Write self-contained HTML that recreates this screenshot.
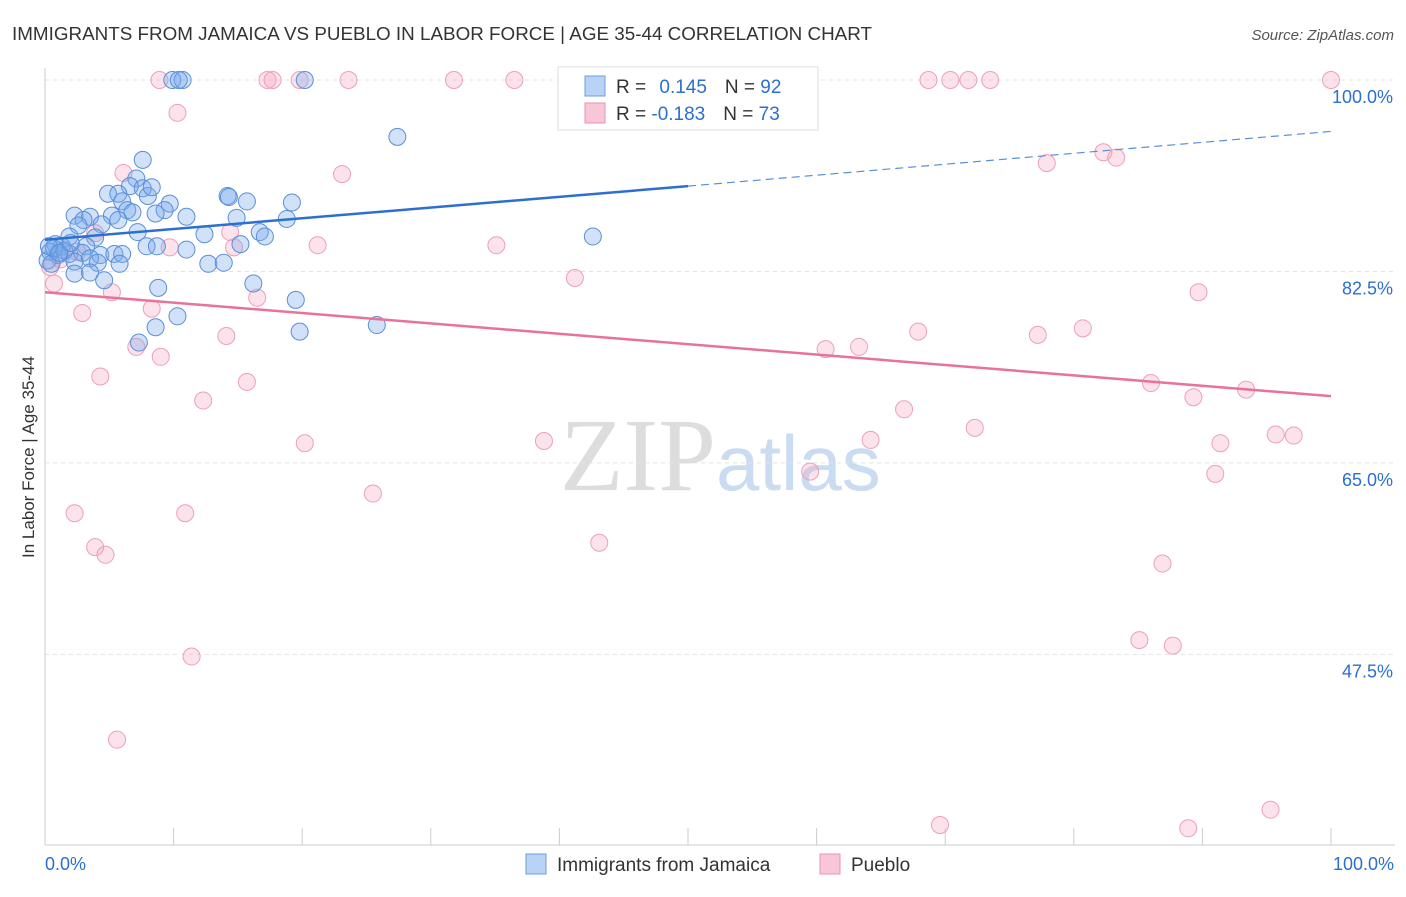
<!DOCTYPE html>
<html><head><meta charset="utf-8"><style>
body{margin:0;background:#fff;font-family:"Liberation Sans",sans-serif;}
</style></head><body>
<svg id="c" width="1406" height="892" xmlns="http://www.w3.org/2000/svg">
<text x="12" y="40" font-size="18.5" fill="#333" textLength="860" lengthAdjust="spacingAndGlyphs">IMMIGRANTS FROM JAMAICA VS PUEBLO IN LABOR FORCE | AGE 35-44 CORRELATION CHART</text>
<text x="1394" y="40" font-size="15" fill="#555" font-style="italic" text-anchor="end">Source: ZipAtlas.com</text>
<text x="716" y="490" font-size="104" fill="#ddd" text-anchor="end" font-family="Liberation Serif">ZIP</text>
<text x="716" y="490" font-size="78" fill="#c9dcf2">atlas</text>
<text transform="translate(34,457) rotate(-90)" font-size="17" fill="#333" text-anchor="middle">In Labor Force | Age 35-44</text>
<g id="grid"></g><g id="pts"></g><g id="trend"></g>
<g>
<rect x="558" y="67" width="260" height="63" fill="#fff" stroke="#ddd"/>
<rect x="585" y="76" width="20" height="20" fill="#b8d3f5" stroke="#6d9fe0"/>
<rect x="585" y="103" width="20" height="20" fill="#f9c6d6" stroke="#e892ae"/>
<text x="616" y="93" font-size="19" fill="#333">R = <tspan fill="#2b6fd1" dx="8">0.145</tspan><tspan dx="18">N = </tspan><tspan fill="#2b6fd1">92</tspan></text>
<text x="616" y="120" font-size="19" fill="#333">R = <tspan fill="#2b6fd1">-0.183</tspan><tspan dx="18">N = </tspan><tspan fill="#2b6fd1">73</tspan></text>
</g>
<g>
<rect x="526" y="854" width="20" height="20" fill="#b8d3f5" stroke="#6d9fe0"/>
<text x="557" y="871" font-size="19" fill="#333">Immigrants from Jamaica</text>
<rect x="820" y="854" width="20" height="20" fill="#f9c6d6" stroke="#e892ae"/>
<text x="851" y="871" font-size="19" fill="#333">Pueblo</text>
</g>
<text x="45" y="870" font-size="18" fill="#2b6fd1">0.0%</text>
<text x="1394" y="870" font-size="18" fill="#2b6fd1" text-anchor="end">100.0%</text>
</svg>
<script>
const yTicks=[100,82.5,65,47.5];
const xTicks=[0,10,20,30,40,50,60,70,80,90,100];
const blueX=[9.9,10.7,20.2,27.4,7.6,7.1,6.6,7.6,4.9,5.7,8,14.2,15.7,19.2,6,9.7,9.3,6.4,5.2,8.6,11,14.9,18.8,2.3,3.5,3,5.7,4.4,2.6,7.2,12.4,16.7,17.1,42.6,1.9,3.9,0.8,1.3,3.2,7.9,8.7,11,15.2,0.4,1,1.9,2.9,4.3,5.4,6,0.2,2.3,3.5,4.1,5.8,12.7,13.9,0.5,2.3,3.5,4.6,16.2,8.8,19.5,10.3,8.6,19.8,25.8,7.3,0.7,1.5,0.3,1.1,2,10.4,14.3,6.8,8.3];
const blueY=[100,100,100,94.8,92.7,91,90.3,90.1,89.6,89.6,89.4,89.4,88.9,88.8,88.9,88.7,88.1,88.1,87.6,87.8,87.5,87.4,87.3,87.6,87.5,87.2,87.2,86.8,86.7,86.1,85.9,86.1,85.7,85.7,85.7,85.6,85,84.8,84.8,84.8,84.8,84.5,85,84.3,84,84.1,84.2,84,84.1,84.1,83.5,83.4,83.7,83.3,83.2,83.2,83.3,83.2,82.3,82.4,81.7,81.4,81,79.9,78.4,77.4,77,77.6,76,84.6,84.4,84.8,84.2,85.1,100,89.3,87.9,90.2];
const pinkX=[8.9,17.3,17.7,19.8,23.6,31.8,36.5,45.6,68.7,70.4,71.8,73.5,100,10.3,82.3,83.3,77.9,23.1,6.1,14.4,3.9,21.2,35.1,9.7,14.7,0.4,41.2,0.7,5.2,89.7,16.5,8.3,2.9,80.7,67.9,77.2,14.1,7.1,60.7,63.3,9,4.3,15.7,86,93.4,89.3,12.3,66.8,72.3,95.7,97.1,64.2,91.4,38.8,20.2,59.5,91,25.5,2.3,10.9,43.1,3.9,4.7,86.9,85.1,87.7,11.4,5.6,95.3,69.6,88.9,1.2,2.5];
const pinkY=[100,100,100,100,100,100,100,100,100,100,100,100,100,97,93.4,92.9,92.4,91.4,91.5,86.1,86,84.9,84.9,84.7,84.7,82.9,81.9,81.4,80.6,80.6,80.1,79.1,78.7,77.3,77,76.7,76.6,75.6,75.4,75.6,74.7,72.9,72.4,72.3,71.7,71,70.7,69.9,68.2,67.6,67.5,67.1,66.8,67,66.8,64.2,64,62.2,60.4,60.4,57.7,57.3,56.6,55.8,48.8,48.3,47.3,39.7,33.3,31.9,31.6,83.6,84.3];
const blueTrend=[[0,85.4],[50,90.3],[100,95.3]];
const pinkTrend=[[0,80.6],[100,71.1]];
const X=v=>45+v*12.86, Y=v=>80+(100-v)*10.94;
const NS='http://www.w3.org/2000/svg';
function mk(t,a,p){const e=document.createElementNS(NS,t);for(const k in a)e.setAttribute(k,a[k]);p.appendChild(e);return e;}
const g=document.getElementById('grid');
yTicks.forEach(t=>{
 const l=mk('line',{x1:45,x2:1395,y1:Y(t),y2:Y(t),stroke:'#e3e3e3','stroke-dasharray':'4,4'},g);
 
 
 const tx=mk('text',{x:1393,y:Y(t)+23,'font-size':18,fill:'#2b6fd1','text-anchor':'end'},g);
 tx.textContent=t.toFixed(1)+'%';
 
 
});
const ax=mk('line',{x1:45,x2:45,y1:68,y2:845,stroke:'#ccc'},g);


const bx=mk('line',{x1:45,x2:1395,y1:845,y2:845,stroke:'#ccc'},g);


xTicks.forEach(t=>{
 const l=mk('line',{x1:X(t),x2:X(t),y1:828,y2:845,stroke:'#ccc'},g);
 
 
});
const p=document.getElementById('pts');
pinkX.forEach((v,i)=>{
 const c=mk('circle',{cx:X(v),cy:Y(pinkY[i]),r:8.5,fill:'rgba(244,160,190,0.3)',stroke:'#eca0ba','stroke-width':1},p);
 
 
});
blueX.forEach((v,i)=>{
 const c=mk('circle',{cx:X(v),cy:Y(blueY[i]),r:8.5,fill:'rgba(120,170,235,0.35)',stroke:'#5a8fd8','stroke-width':1},p);
 
 
});
const tr=document.getElementById('trend');
const b1=mk('line',{x1:X(blueTrend[0][0]),y1:Y(blueTrend[0][1]),x2:X(blueTrend[1][0]),y2:Y(blueTrend[1][1]),stroke:'#2b6fd1','stroke-width':2.5},tr);


const b2=mk('line',{x1:X(blueTrend[1][0]),y1:Y(blueTrend[1][1]),x2:X(blueTrend[2][0]),y2:Y(blueTrend[2][1]),stroke:'#5a8fd8','stroke-width':1.2,'stroke-dasharray':'8,5'},tr);


const p1=mk('line',{x1:X(pinkTrend[0][0]),y1:Y(pinkTrend[0][1]),x2:X(pinkTrend[1][0]),y2:Y(pinkTrend[1][1]),stroke:'#e8729a','stroke-width':2.5},tr);


</script>
</body></html>
